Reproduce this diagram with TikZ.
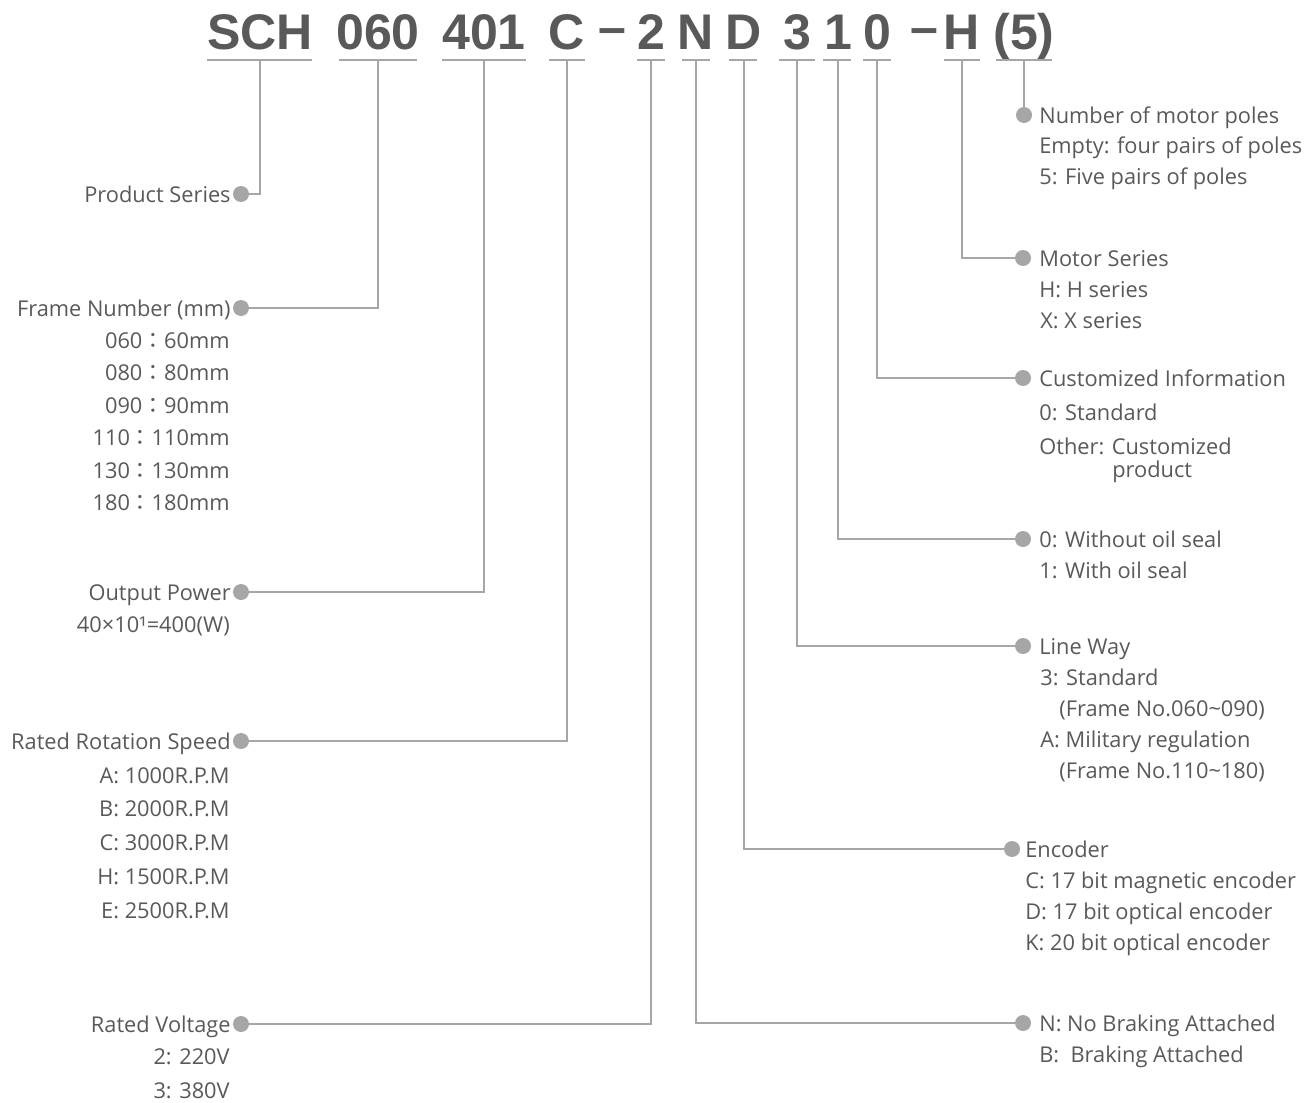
\documentclass[tikz,border=0pt]{standalone}
\usepackage{fontspec}
\setmainfont{Open Sans}
\newfontfamily\titlefont{Liberation Sans}
\newfontfamily\cjk{Noto Sans CJK TC}
\definecolor{txt}{HTML}{595959}
\definecolor{ln}{HTML}{A6A6A6}
\begin{document}
\begin{tikzpicture}[x=0.02cm,y=-0.02cm,
 lbl/.style={font=\fontsize{12.4}{14}\selectfont, text=txt, inner sep=0pt},
 lft/.style={lbl, anchor=base east},
 rgt/.style={lbl, anchor=base west},
 ttl/.style={font=\titlefont\bfseries\fontsize{28.5}{30}\selectfont, text=txt, inner sep=0pt, anchor=base},
 uline/.style={draw=ln, line width=1.1pt},
 conn/.style={draw=ln, line width=1.1pt},
 dotn/.style={circle, fill=ln, inner sep=0pt, minimum size=0.32cm}]
\useasboundingbox (0,0) rectangle (1314,1102);

% ---- title code ----
\foreach \nm/\txt/\cx/\xa/\xb in {sch/SCH/260/207/312, fr/060/378/339/417, pw/401/484/442/526, sp/C/567/549/585,
  vo/2/651/637/665, br/N/696/682/710, en/D/744/729/757, lw/3/797/779/815, oi/1/838/823/851, cu/0/877/863/891,
  ms/H/962/944/980, po/(5)/1024/996/1052}{
  \node[ttl] (t\nm) at (\cx,49) {\txt};
  \coordinate (u\nm) at (\cx,60);
  \draw[uline] (\xa,60) -- (\xb,60);
}
\node[ttl] (dash1) at (612,44) {–};
\node[ttl] (dash2) at (924,44) {–};

% ---- left side ----
\node[dotn] (dPS) at (241,194) {};
\node[dotn] (dFN) at (241,308) {};
\node[dotn] (dOP) at (241,592) {};
\node[dotn] (dRS) at (241,741) {};
\node[dotn] (dRV) at (241,1024) {};
\draw[conn] (dPS.east) -| (usch);
\draw[conn] (dFN.east) -| (ufr);
\draw[conn] (dOP.east) -| (upw);
\draw[conn] (dRS.east) -| (usp);
\draw[conn] (dRV.east) -| (uvo);

\node[lft] (lPS) at (231,202) {Product Series};
\node[lft] (lFN) at (231,316) {Frame Number (mm)};
\foreach \i/\y/\t in {1/340/{060{\cjk ：}60mm}, 2/372/{080{\cjk ：}80mm}, 3/405/{090{\cjk ：}90mm},
  4/437/{110{\cjk ：}110mm}, 5/470/{130{\cjk ：}130mm}, 6/502/{180{\cjk ：}180mm}}{
  \node[lft] (fn\i) at (230,\y+8) {\t};
}
\node[lft] (lOP) at (231,600) {Output Power};
\node[lft] (op1) at (230,632) {40×10¹=400(W)};
\node[lft] (lRS) at (231,749) {Rated Rotation Speed};
\foreach \i/\y/\t in {1/775/{A: 1000R.P.M}, 2/808/{B: 2000R.P.M}, 3/842/{C: 3000R.P.M}, 4/876/{H: 1500R.P.M}, 5/910/{E: 2500R.P.M}}{
  \node[lft] (rs\i) at (230,\y+8) {\t};
}
\node[lft] (lRV) at (231,1032) {Rated Voltage};
\node[lft] (rv1) at (230,1064) {2: 220V};
\node[lft] (rv2) at (230,1098) {3: 380V};

% ---- right side ----
\node[dotn] (dPO) at (1024,115) {};
\node[dotn] (dMS) at (1023,258) {};
\node[dotn] (dCU) at (1023,378) {};
\node[dotn] (dOI) at (1023,539) {};
\node[dotn] (dLW) at (1023,646) {};
\node[dotn] (dEN) at (1012,849) {};
\node[dotn] (dBR) at (1023,1023) {};
\draw[conn] (upo) -- (dPO.north);
\draw[conn] (ums) |- (dMS.west);
\draw[conn] (ucu) |- (dCU.west);
\draw[conn] (uoi) |- (dOI.west);
\draw[conn] (ulw) |- (dLW.west);
\draw[conn] (uen) |- (dEN.west);
\draw[conn] (ubr) |- (dBR.west);

\node[rgt] (lPO) at (1039,123) {Number of motor poles};
\node[rgt] (po1) at (1039,153) {Empty: four pairs of poles};
\node[rgt] (po2) at (1039,184) {5: Five pairs of poles};
\node[rgt] (lMS) at (1039,266) {Motor Series};
\node[rgt] (ms1) at (1039,297) {H: H series};
\node[rgt] (ms2) at (1040,328) {X: X series};
\node[rgt] (lCU) at (1039,386) {Customized Information};
\node[rgt] (cu1) at (1039,420) {0: Standard};
\node[rgt] (cu2) at (1039,454) {Other: Customized};
\node[rgt] (cu3) at (1112,477) {product};
\node[rgt] (oi1) at (1039,547) {0: Without oil seal};
\node[rgt] (oi2) at (1039,578) {1: With oil seal};
\node[rgt] (lLW) at (1039,654) {Line Way};
\node[rgt] (lw1) at (1040,685) {3: Standard};
\node[rgt] (lw2) at (1059,716) {(Frame No.060\char`\~090)};
\node[rgt] (lw3) at (1040,747) {A: Military regulation};
\node[rgt] (lw4) at (1059,778) {(Frame No.110\char`\~180)};
\node[rgt] (lEN) at (1025,857) {Encoder};
\node[rgt] (en1) at (1025,888) {C: 17 bit magnetic encoder};
\node[rgt] (en2) at (1025,919) {D: 17 bit optical encoder};
\node[rgt] (en3) at (1025,950) {K: 20 bit optical encoder};
\node[rgt] (br1) at (1039,1031) {N: No Braking Attached};
\node[rgt] (br2) at (1039,1062) {B:\ \ Braking Attached};
\end{tikzpicture}
\end{document}
